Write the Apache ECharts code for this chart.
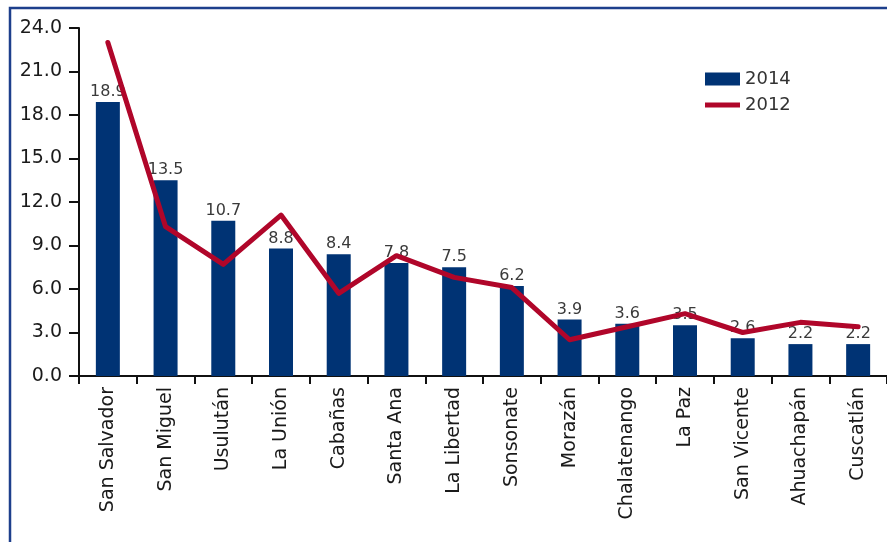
<!DOCTYPE html>
<html>
<head>
<meta charset="utf-8">
<script src="https://cdn.jsdelivr.net/npm/echarts@6/dist/echarts.min.js"></script>
<style>
  html, body { margin: 0; padding: 0; background: #fff; }
  #chart { width: 887px; height: 542px; }
</style>
</head>
<body>
<div id="chart"></div>
<script>
// departamentos
const categories = ['San Salvador', 'San Miguel', 'Usulután', 'La Unión', 'Cabañas', 'Santa Ana',
  'La Libertad', 'Sonsonate', 'Morazán', 'Chalatenango', 'La Paz', 'San Vicente', 'Ahuachapán', 'Cuscatlán'];
const values2014 = [18.9, 13.5, 10.7, 8.8, 8.4, 7.8, 7.5, 6.2, 3.9, 3.6, 3.5, 2.6, 2.2, 2.2];
const values2012 = [23.0, 10.3, 7.7, 11.1, 5.7, 8.3, 6.8, 6.1, 2.5, 3.4, 4.3, 3.0, 3.7, 3.4];

const font = '"DejaVu Sans", sans-serif';
const blue = '#003374';
const red = '#b0062a';

const chart = echarts.init(document.getElementById('chart'));

chart.setOption({
  animation: false,
  textStyle: { fontFamily: font },
  graphic: [{
    type: 'rect',
    shape: { x: 10, y: 8, width: 900, height: 560 },
    style: { fill: 'none', stroke: '#1d3f8c', lineWidth: 2.5 },
    silent: true
  }],
  legend: {
    orient: 'vertical',
    left: 700,
    top: 65,
    itemWidth: 35,
    itemHeight: 13,
    itemGap: 8,
    symbolKeepAspect: true,
    textStyle: { fontSize: 18, color: '#333', fontFamily: font },
    data: [
      { name: '2014', icon: 'rect' },
      { name: '2012', icon: 'path://M0,0L35,0L35,5L0,5Z' }
    ]
  },
  grid: { left: 79, top: 28, width: 812, height: 348, containLabel: false },
  xAxis: {
    type: 'category',
    data: categories,
    axisLine: { lineStyle: { color: '#111', width: 2 } },
    axisTick: { show: true, length: 8, alignWithLabel: false, lineStyle: { color: '#111', width: 2 } },
    axisLabel: { rotate: 90, interval: 0, margin: 11, fontSize: 19, color: '#1a1a1a', fontFamily: font }
  },
  yAxis: {
    type: 'value',
    min: 0,
    max: 24,
    interval: 3,
    splitLine: { show: false },
    axisLine: { show: true, lineStyle: { color: '#111', width: 2 } },
    axisTick: { show: true, length: 10, lineStyle: { color: '#111', width: 2 } },
    axisLabel: { margin: 17, fontSize: 19, color: '#1a1a1a', fontFamily: font, formatter: v => v.toFixed(1) }
  },
  series: [
    {
      name: '2014',
      type: 'bar',
      data: values2014,
      barWidth: 24,
      itemStyle: { color: blue },
      label: {
        show: true, position: 'top', distance: 2, fontSize: 16, color: '#3a3a3a', fontFamily: font,
        formatter: p => p.value.toFixed(1)
      },
      z: 2
    },
    {
      name: '2012',
      type: 'line',
      data: values2012,
      symbol: 'none',
      showSymbol: false,
      lineStyle: { color: red, width: 5, join: 'round', cap: 'round' },
      itemStyle: { color: red },
      z: 3
    }
  ]
});
</script>
</body>
</html>
